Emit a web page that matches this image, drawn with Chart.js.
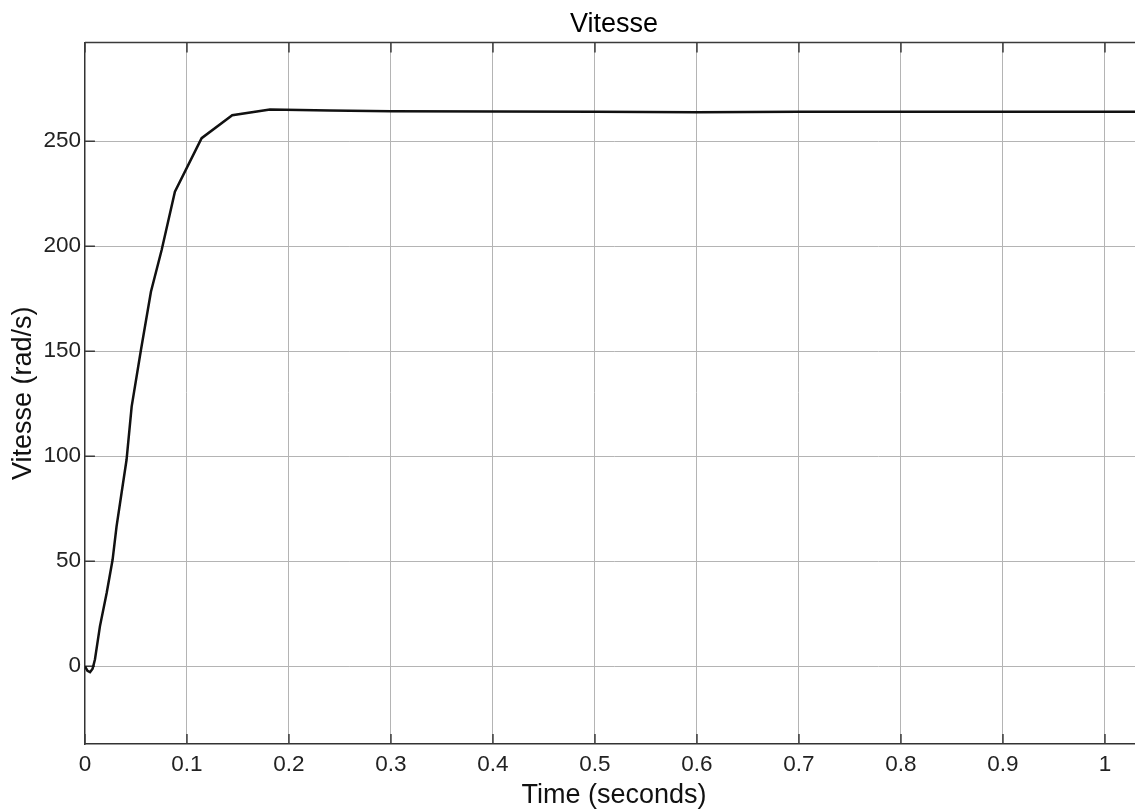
<!DOCTYPE html>
<html>
<head>
<meta charset="utf-8">
<script src="https://cdn.jsdelivr.net/npm/chart.js@4/dist/chart.umd.min.js"></script>
<style>
  html, body { margin: 0; padding: 0; background: #fff; overflow: hidden; }
  #wrap { width: 1143px; height: 812px; position: relative; }
</style>
</head>
<body>
<div id="wrap"><canvas id="myChart"></canvas></div>
<script>
// simulated speed response
const timeValues = [0, 0.0025, 0.005, 0.0075, 0.0098, 0.0147, 0.0213, 0.0271, 0.031, 0.0359, 0.0408,
    0.0458, 0.0549, 0.0647, 0.0752, 0.0882, 0.1144, 0.1444, 0.1814, 0.24, 0.3, 0.4, 0.5,
    0.6, 0.7, 0.8, 0.9, 1.0, 1.05];
const speedValues = [0, -2.2, -2.8, -1.2, 3.2, 19, 34.9, 50.7, 66.6, 82.5, 98.3,
    123.6, 150.6, 178.3, 198.2, 225.9, 251.4, 262.3, 265.1, 264.6, 264.2, 264.1, 264.0,
    263.8, 264.0, 264.0, 264.0, 264.0, 264.0];
const xTickValues = [0, 0.1, 0.2, 0.3, 0.4, 0.5, 0.6, 0.7, 0.8, 0.9, 1];
const yTickValues = [0, 50, 100, 150, 200, 250];

const FONT = "'Liberation Sans', Arial, sans-serif";

// matlab style: short ticks pointing inside, plus the top frame line
const insideTicks = {
    id: 'insideTicks',
    beforeDatasetsDraw(chart) {
        const { ctx, chartArea: a, scales } = chart;
        ctx.save();
        ctx.strokeStyle = '#3a3a3a';
        ctx.lineWidth = 1.5;
        ctx.beginPath();
        xTickValues.forEach(v => {
            const x = scales.x.getPixelForValue(v);
            ctx.moveTo(x, a.bottom); ctx.lineTo(x, a.bottom - 10);
            ctx.moveTo(x, a.top); ctx.lineTo(x, a.top + 10);
        });
        yTickValues.forEach(v => {
            const y = scales.y.getPixelForValue(v);
            ctx.moveTo(a.left, y); ctx.lineTo(a.left + 10, y);
        });
        ctx.moveTo(a.left, a.top); ctx.lineTo(a.right, a.top);
        ctx.stroke();
        ctx.restore();
    }
};

function ShowGraph() {
    const ctx = document.getElementById('myChart');
    new Chart(ctx, {
        type: 'line',
        data: {
            datasets: [{
                label: 'Vitesse',
                data: timeValues.map((t, i) => ({ x: t, y: speedValues[i] })),
                borderColor: '#111',
                borderWidth: 2.5,
                pointRadius: 0,
                tension: 0,
                fill: false
            }]
        },
        options: {
            responsive: true,
            maintainAspectRatio: false,
            animation: false,
            layout: { padding: 0 },
            plugins: {
                legend: { display: false },
                tooltip: { enabled: false },
                title: {
                    display: true,
                    fullSize: false,
                    text: 'Vitesse',
                    color: '#000',
                    font: { family: FONT, size: 27, weight: 'normal' },
                    padding: { top: 8, bottom: 2 }
                }
            },
            scales: {
                x: {
                    type: 'linear',
                    min: 0,
                    max: 1.0373,
                    afterBuildTicks: s => { s.ticks = xTickValues.map(v => ({ value: v })); },
                    grid: { color: '#b4b4b4', lineWidth: 1, drawTicks: false, tickLength: 0 },
                    border: { color: '#333', width: 1.5 },
                    ticks: {
                        color: '#222',
                        padding: 9.25,
                        maxRotation: 0,
                        font: { family: FONT, size: 22.5, lineHeight: 1 },
                        callback: v => String(+v.toFixed(2))
                    },
                    title: {
                        display: true,
                        text: 'Time (seconds)',
                        color: '#111',
                        font: { family: FONT, size: 27, lineHeight: 0.785 },
                        padding: { top: 0, bottom: 5.8 }
                    }
                },
                y: {
                    type: 'linear',
                    min: -37,
                    max: 297,
                    afterBuildTicks: s => { s.ticks = yTickValues.map(v => ({ value: v })); },
                    grid: { color: '#b4b4b4', lineWidth: 1, drawTicks: false },
                    border: { color: '#333', width: 1.5 },
                    ticks: {
                        color: '#222',
                        padding: 4,
                        font: { family: FONT, size: 22.5 },
                        callback: v => String(v)
                    },
                    title: {
                        display: true,
                        text: 'Vitesse (rad/s)',
                        color: '#111',
                        font: { family: FONT, size: 27 },
                        padding: { top: 7, bottom: 0 }
                    }
                }
            }
        },
        plugins: [insideTicks]
    });
}

window.addEventListener('load', ShowGraph);
</script>
</body>
</html>
